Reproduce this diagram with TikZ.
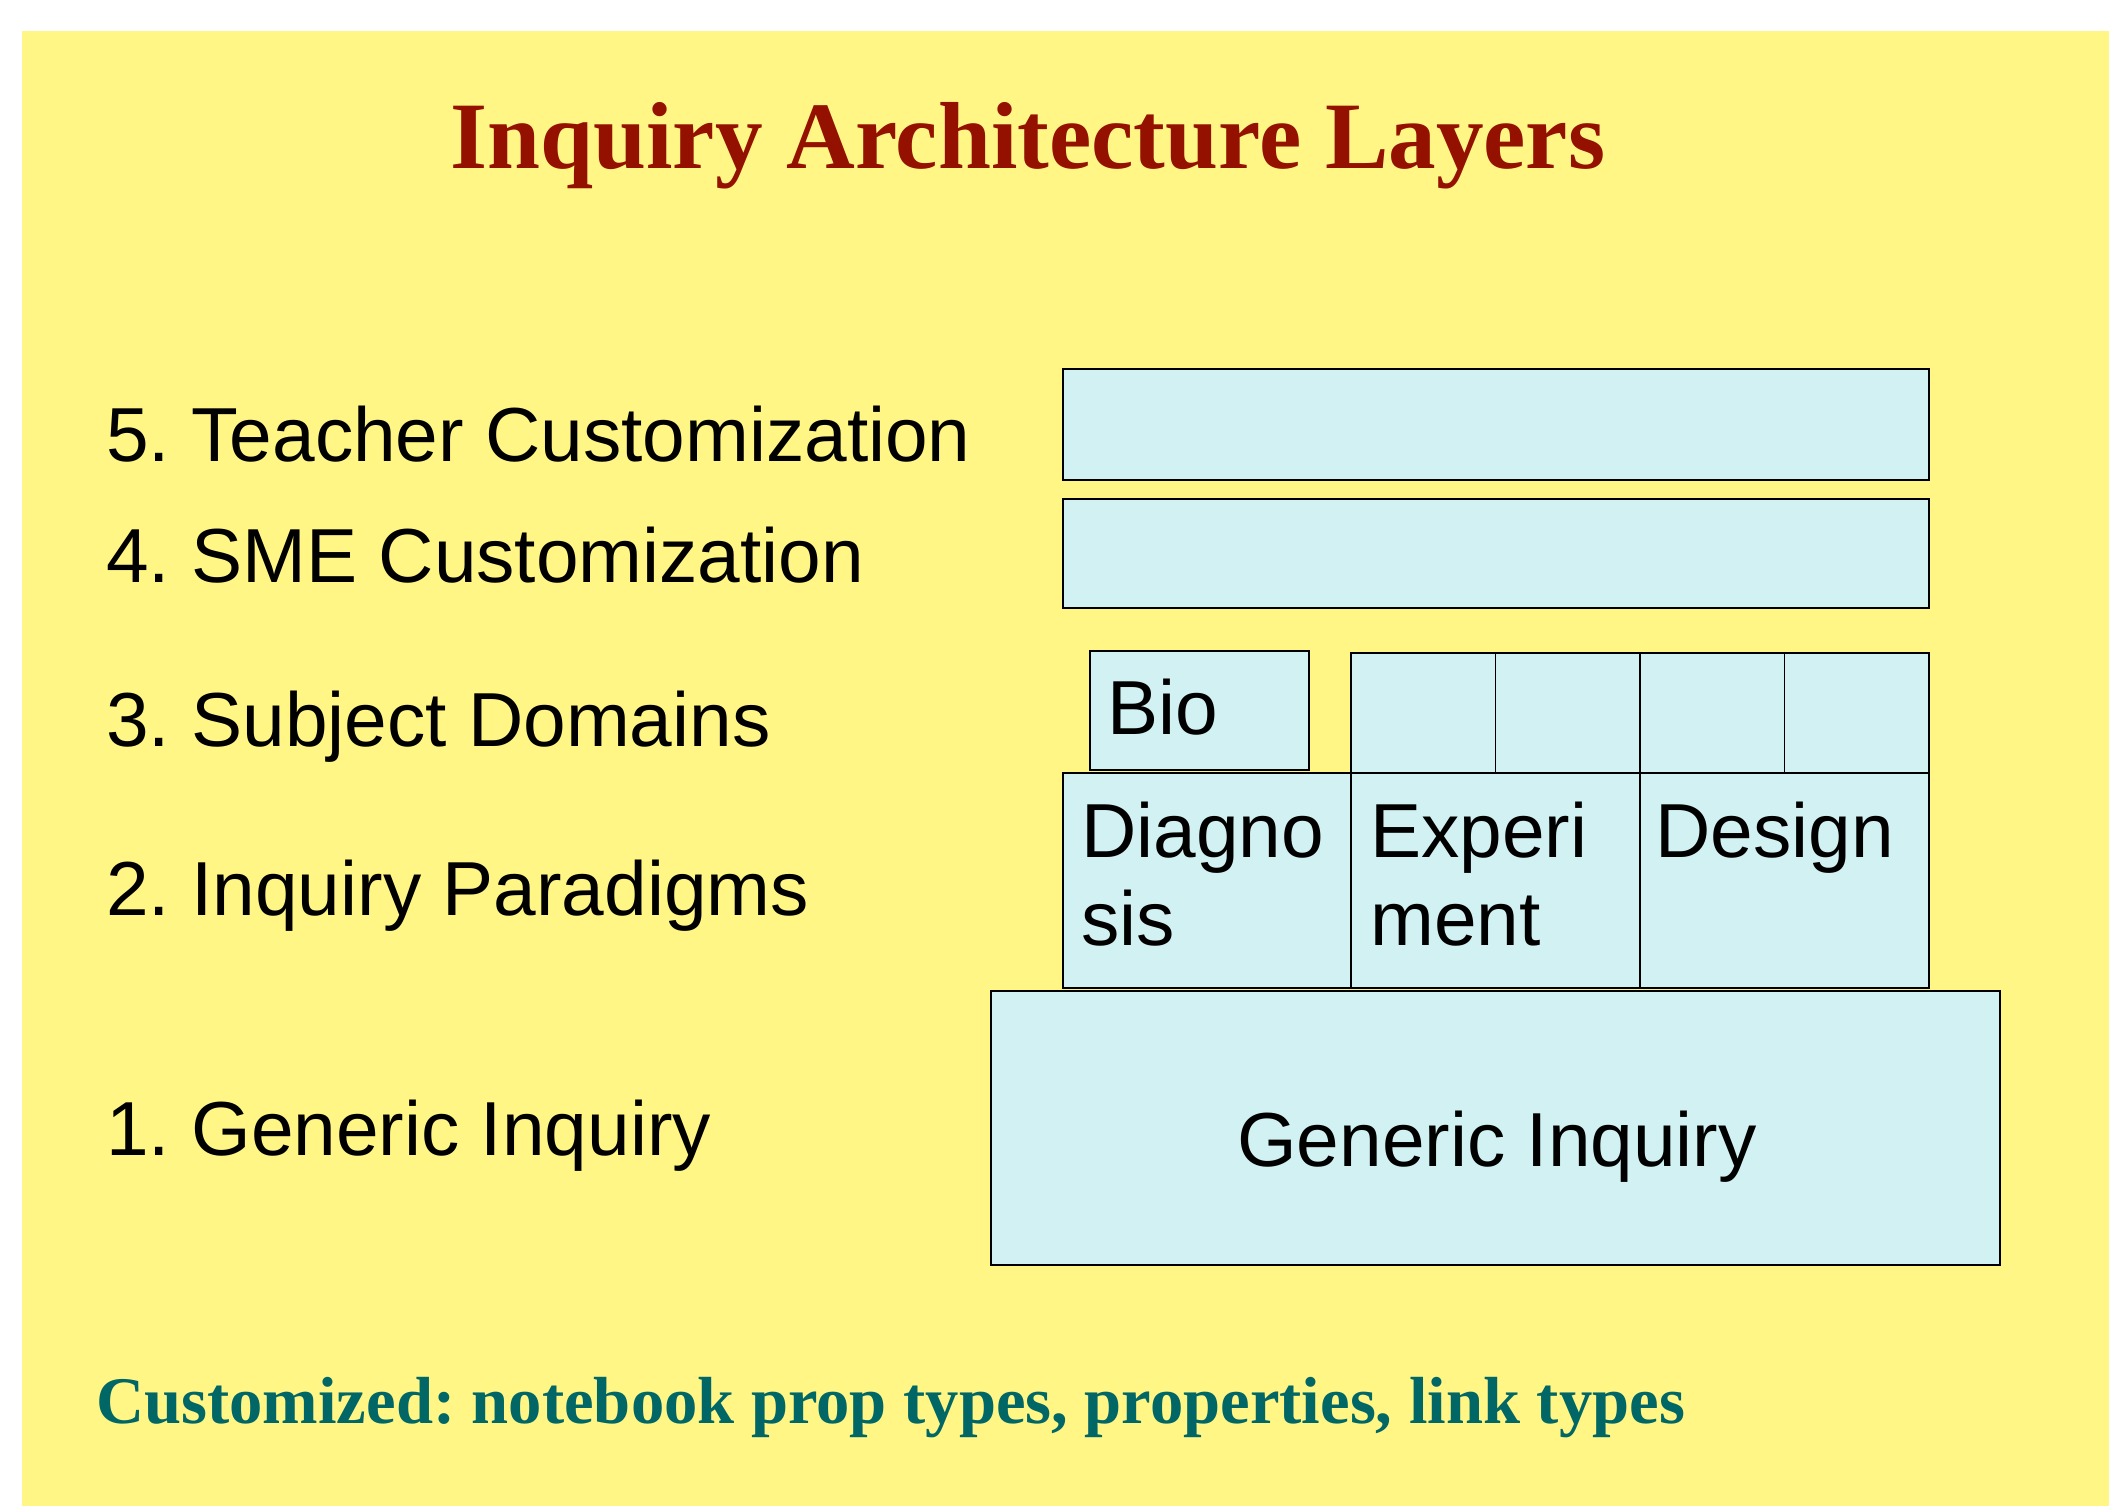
\documentclass[tikz,border=0pt]{standalone}
\usepackage{fontspec}
\setmainfont{Liberation Sans}
\newfontfamily\serifbf{Liberation Serif}
\usetikzlibrary{fit}
\definecolor{bgyellow}{HTML}{FFF685}
\definecolor{boxcyan}{HTML}{D1F1F3}
\definecolor{titlered}{HTML}{941100}
\definecolor{noteteal}{HTML}{006666}
\tikzset{
  blk/.style={draw=black, fill=boxcyan, line width=0.75pt, inner sep=0pt, rectangle},
  lbl/.style={inner sep=0pt, anchor=base west, font=\fontsize{38.3}{44}\selectfont},
  intext/.style={inner sep=0pt, anchor=base west, align=left, font=\fontsize{38.3}{44}\selectfont},
  titletext/.style={inner sep=0pt, anchor=base, text=titlered, font=\serifbf\bfseries\fontsize{47.6}{56}\selectfont},
  notetext/.style={inner sep=0pt, anchor=base west, text=noteteal, font=\serifbf\bfseries\fontsize{33.3}{40}\selectfont}
}
\begin{document}
\frenchspacing
\begin{tikzpicture}[x=0.5pt,y=-0.5pt]
\useasboundingbox (0,0) rectangle (2109,1506);
\fill[white] (0,0) rectangle (2109,1506);
\fill[bgyellow] (22,31) rectangle (2109,1506);
% title
\node[titletext] (title) at (1028,168) {Inquiry Architecture Layers};
% left labels
\node[lbl] (l5) at (106,461) {5. Teacher Customization};
\node[lbl] (l4) at (106,582) {4. SME Customization};
\node[lbl] (l3) at (106,746) {3. Subject Domains};
\node[lbl] (l2) at (106,915) {2. Inquiry Paradigms};
\node[lbl] (l1) at (106,1155) {1. Generic Inquiry};
% layer 5 and 4
\node[blk, fit={(1063,369) (1929,480)}] (b5) {};
\node[blk, fit={(1063,499) (1929,608)}] (b4) {};
% layer 3
\node[blk, fit={(1090,651) (1309,770)}] (bio) {};
\node[blk, fit={(1351,653) (1495.5,773)}] (s1) {};
\node[blk, fit={(1495.5,653) (1640,773)}] (s2) {};
\node[blk, fit={(1640,653) (1784.5,773)}] (s3) {};
\node[blk, fit={(1784.5,653) (1929,773)}] (s4) {};
% layer 2
\node[blk, fit={(1063,773) (1351,988)}] (diag) {};
\node[blk, fit={(1351,773) (1640,988)}] (expt) {};
\node[blk, fit={(1640,773) (1929,988)}] (dsgn) {};
% layer 1
\node[blk, fit={(991,991) (2000,1265)}] (gen) {};
% texts in boxes (multi-line nodes: base anchor is the last line)
\node[intext] (tbio) at (1107,734) {Bio};
\node[intext] (tdiag) at (1081,945) {Diagno\\sis};
\node[intext] (texpt) at (1370,945) {Experi\\ment};
\node[intext] (tdsgn) at (1655,857) {Design};
\node[lbl, anchor=base] (tgen) at (1497,1166) {Generic Inquiry};
% note
\node[notetext] (note) at (96,1423) {Customized: notebook prop types, properties, link types};
\end{tikzpicture}
\end{document}
